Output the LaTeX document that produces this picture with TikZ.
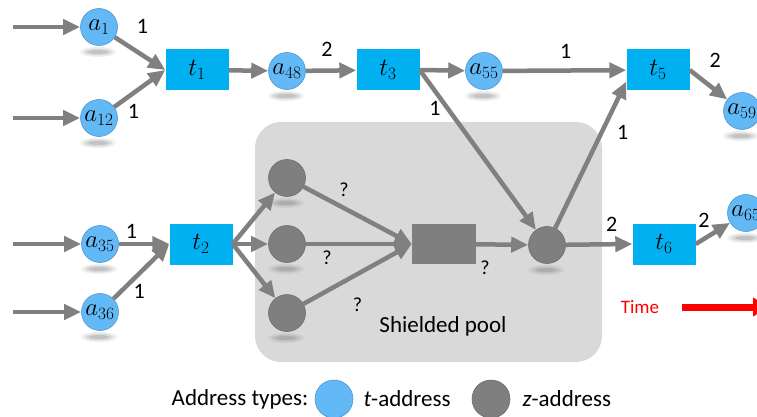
\documentclass[tikz,border=0pt]{standalone}
\usepackage{fontspec}
\setmainfont{Carlito}
\usetikzlibrary{arrows.meta,positioning,calc}

\definecolor{tfill}{RGB}{99,185,245}
\definecolor{tedge}{RGB}{80,150,210}
\definecolor{boxblue}{RGB}{0,176,240}
\definecolor{zfill}{RGB}{127,127,127}
\definecolor{zedge}{RGB}{110,110,110}
\definecolor{flowgray}{RGB}{128,128,128}
\definecolor{poolgray}{RGB}{217,217,217}

\begin{document}
\begin{tikzpicture}[x=1pt, y=-1pt,
    taddr/.style={circle, draw=tedge, line width=0.6pt, fill=tfill, minimum size=37pt, inner sep=0pt, font=\fontsize{27}{27}\selectfont},
    zaddr/.style={circle, draw=zedge, line width=0.6pt, fill=zfill, minimum size=37pt, inner sep=0pt},
    tx/.style={rectangle, fill=boxblue, minimum width=63pt, minimum height=41pt, inner sep=0pt, font=\fontsize{26}{26}\selectfont},
    zx/.style={rectangle, fill=zfill, minimum width=64pt, minimum height=40pt, inner sep=0pt},
    flow/.style={draw=flowgray, line width=4.5pt, -{Triangle[length=17pt, width=15pt]}},
    lbl/.style={font=\fontsize{22}{22}\selectfont, inner sep=0pt},
    qlbl/.style={font=\fontsize{20}{20}\selectfont, inner sep=0pt},
    txt/.style={font=\fontsize{23}{23}\selectfont, inner sep=0pt}]

    \useasboundingbox (0,0) rectangle (757,417);
    \clip (0,0) rectangle (757,417);

    % Shielded pool background
    \fill[poolgray, rounded corners=26pt] (255,122) rectangle (602,362);
    \node[txt] (pool) at (443,326) {Shielded pool};

    % Address and transaction nodes, top row
    \node[taddr] (a1) at (99,27) {$a_{1}$};
    \node[taddr] (a12) at (99,118) {$a_{12}$};
    \node[tx] (t1) at (197,70) {$t_{1}$};
    \node[taddr] (a48) at (287,71) {$a_{48}$};
    \node[tx] (t3) at (388,70) {$t_{3}$};
    \node[taddr] (a55) at (484,71) {$a_{55}$};
    \node[tx] (t5) at (658,70) {$t_{5}$};
    \node[taddr] (a59) at (742,111) {$a_{59}$};

    % Bottom row, through the pool
    \node[taddr] (a35) at (100,244) {$a_{35}$};
    \node[taddr] (a36) at (100,312) {$a_{36}$};
    \node[tx] (t2) at (201,244) {$t_{2}$};
    \node[zaddr] (z1) at (287,178) {};
    \node[zaddr] (z2) at (287,244) {};
    \node[zaddr] (z3) at (287,313) {};
    \node[zx] (zt) at (444,244) {};
    \node[zaddr] (z4) at (547,245) {};
    \node[tx] (t6) at (664,244) {$t_{6}$};
    \node[taddr] (a65) at (746,213) {$a_{65}$};

    % Soft shadows below the circles
    \foreach \n in {a1,a12,a48,a55,a59,a35,a36,z1,z2,z3,z4,a65} {
        \fill[gray, opacity=.12] ($(\n)+(-1,25)$) ellipse [x radius=18, y radius=5];
        \fill[gray, opacity=.2] ($(\n)+(-1,25)$) ellipse [x radius=14, y radius=3.5];
        \fill[gray, opacity=.25] ($(\n)+(-1,25)$) ellipse [x radius=10, y radius=2];
    }

    % Incoming coins
    \coordinate (in1) at (13,27);
    \coordinate (in12) at (13,118);
    \coordinate (in35) at (13,244);
    \coordinate (in36) at (13,312);
    \draw[flow] (in1) -- (a1);
    \draw[flow] (in12) -- (a12);
    \draw[flow] (in35) -- (a35);
    \draw[flow] (in36) -- (a36);

    % Transparent transfers
    \draw[flow] (a1) -- (t1.west) node[lbl, pos=.29, xshift=13pt, yshift=20pt] {1};
    \draw[flow] (a12) -- (t1.west) node[lbl, pos=.2, xshift=9pt, yshift=-12pt] {1};
    \draw[flow] (t1) -- (a48);
    \draw[flow] (a48) -- (t3) node[lbl, pos=.42, yshift=21pt] {2};
    \draw[flow] (t3.east) -- (a55);
    \draw[flow] (a55) -- (t5) node[lbl, pos=.51, yshift=19pt] {1};
    \draw[flow] (t5.east) -- (a59) node[lbl, pos=.28, xshift=15pt, yshift=18pt] {2};
    \draw[flow] (a35) -- (t2.west) node[lbl, pos=.25, yshift=13pt] {1};
    \draw[flow] (a36) -- (t2.west) node[lbl, pos=.3, xshift=9pt, yshift=-9pt] {1};

    % Into and out of the pool
    \draw[flow] (t2.east) -- (z1);
    \draw[flow] (t2.east) -- (z2);
    \draw[flow] (t2.east) -- (z3);
    \draw[flow] (z1) -- (zt.west) node[qlbl, pos=.3, xshift=8pt, yshift=14pt] {?};
    \draw[flow] (z2) -- (zt.west) node[qlbl, pos=.2, yshift=-14pt] {?};
    \draw[flow] (z3) -- (zt.west) node[qlbl, pos=.38, xshift=13pt, yshift=-24pt] {?};
    \draw[flow] (zt) -- (z4) node[qlbl, pos=.17, yshift=-23pt] {?};
    \draw[flow] (t3.east) -- (z4) node[lbl, pos=.2, xshift=-8pt, yshift=-6pt] {1};
    \draw[flow] (z4) -- (t5.200) node[lbl, pos=.71, xshift=17pt, yshift=-8pt] {1};
    \draw[flow] (z4) -- (t6.west) node[lbl, pos=.69, yshift=20pt] {2};
    \draw[flow] (t6.east) -- (a65) node[lbl, pos=.5, xshift=-9pt, yshift=13pt] {2};

    % Time direction
    \node[font=\fontsize{19}{19}\selectfont, inner sep=0pt, text=red] (time) at (640,307) {Time};
    \coordinate (timeend) at (769,307);
    \draw[red, line width=7pt, -{Triangle[length=16pt, width=18pt]}] ([xshift=23pt]time.east) -- (timeend);

    % Legend
    \node[txt] (legend) at (240,399) {Address types:};
    \node[taddr, minimum size=38pt] (legt) at (334,399) {};
    \node[txt, right=10pt of legt] (legttext) {\textit{t}-address};
    \node[zaddr, minimum size=38pt] (legz) at (491,399) {};
    \node[txt, right=12pt of legz] (legztext) {\textit{z}-address};
\end{tikzpicture}
\end{document}
